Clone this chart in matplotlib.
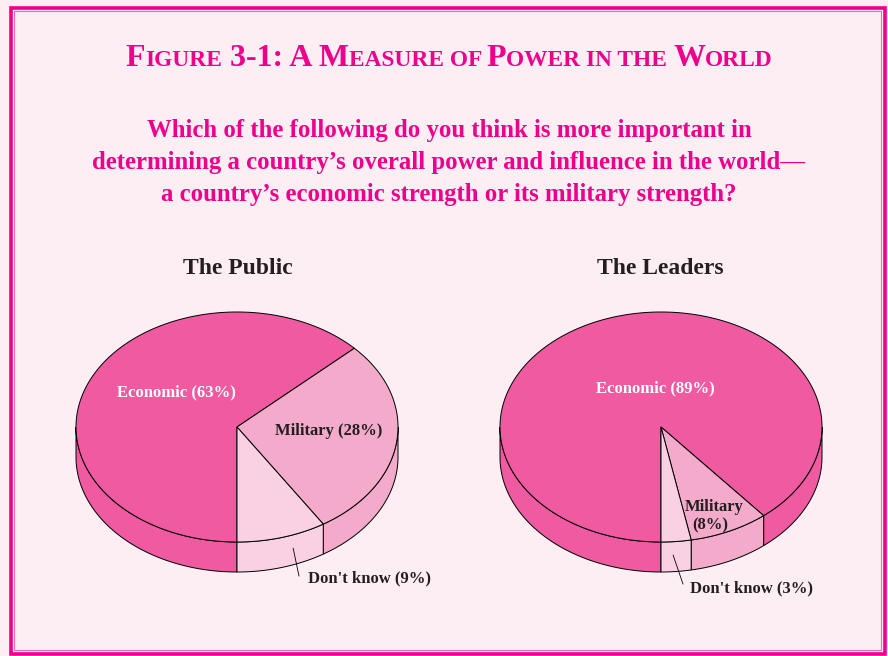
import numpy as np
import matplotlib
matplotlib.use('Agg')
import matplotlib.pyplot as plt
from matplotlib.patches import Polygon, Rectangle
from matplotlib.offsetbox import TextArea, HPacker, AnnotationBbox

# data
categories = ['Economic', 'Military', "Don't know"]
public_values = [63, 28, 9]
leaders_values = [89, 8, 3]
slice_colors = ['#EF5AA0', '#F4AACB', '#F9D1E3']

title_parts = [('F', 'big'), ('IGURE', 'small'), (' 3-1: A ', 'big'), ('M', 'big'),
               ('EASURE OF ', 'small'), ('P', 'big'), ('OWER IN THE ', 'small'),
               ('W', 'big'), ('ORLD', 'small')]
subtitle_lines = ["Which of the following do you think is more important in",
                  "determining a country\u2019s overall power and influence in the world\u2014",
                  "a country\u2019s economic strength or its military strength?"]

BG = '#FCEEF3'
MAGENTA = '#EC008C'
DARK = '#231F20'
SERIF = 'Liberation Serif'

RX, RY, DEPTH = 161, 115, 30

fig = plt.figure(figsize=(8.88, 6.56), dpi=100)
fig.patch.set_facecolor(BG)
ax = fig.add_axes([0, 0, 1, 1])
ax.set_xlim(0, 888)
ax.set_ylim(656, 0)
ax.axis('off')


def pt(cx, cy, ang, dy=0):
    a = np.radians(ang)
    return cx + RX * np.cos(a), cy - RY * np.sin(a) + dy


def arc(cx, cy, a1, a2, dy=0):
    angs = np.linspace(a1, a2, max(int(abs(a2 - a1)) * 2, 2))
    return [pt(cx, cy, a, dy) for a in angs]


def draw_pie(cx, cy, values):
    total = float(sum(values))
    start = 270.0
    spans = []
    cum = 0
    for v in values:
        t1 = start - cum / total * 360
        t2 = start - (cum + v) / total * 360
        spans.append((t1, t2))
        cum += v
    # side band (front half only)
    for (t1, t2), col in zip(spans, slice_colors):
        lo, hi = t2, t1
        for k in range(-2, 3):
            a = max(lo, -180 + 360 * k)
            b = min(hi, 360 * k)
            if b > a:
                pts = arc(cx, cy, a, b) + arc(cx, cy, b, a, DEPTH)
                ax.add_patch(Polygon(pts, closed=True, facecolor=col,
                                     edgecolor='black', lw=0.7, zorder=2))
    # top
    for (t1, t2), col in zip(spans, slice_colors):
        pts = [(cx, cy)] + arc(cx, cy, t1, t2)
        ax.add_patch(Polygon(pts, closed=True, facecolor=col,
                             edgecolor='black', lw=0.7, zorder=3))
    return spans


pub = draw_pie(237, 427, public_values)
lead = draw_pie(661, 427, leaders_values)

lab = dict(family=SERIF, weight='bold', fontsize=12, zorder=5)
ax.text(176, 392, f'{categories[0]} ({public_values[0]}%)', color='white',
        ha='center', va='center', **lab)
ax.text(329, 431, f'{categories[1]} ({public_values[1]}%)', color=DARK,
        ha='center', va='center', **lab)
ax.text(308, 578, f'{categories[2]} ({public_values[2]}%)', color=DARK,
        ha='left', va='center', **lab)

ax.text(655, 388, f'{categories[0]} ({leaders_values[0]}%)', color='white',
        ha='center', va='center', **lab)
ax.text(714, 507, f'{categories[1]}', color=DARK, ha='center', va='center', **lab)
ax.text(710, 525, f'({leaders_values[1]}%)', color=DARK, ha='center', va='center', **lab)
ax.text(690, 588, f'{categories[2]} ({leaders_values[2]}%)', color=DARK,
        ha='left', va='center', **lab)

# leader lines for the small "Don't know" slices
for (cx, cy), spans, frac, end in [((237, 427), pub, 0.63, (299, 576)),
                                   ((661, 427), lead, 0.4, (683, 584))]:
    t1, t2 = spans[2]
    ang = t2 + frac * (t1 - t2)
    x0, y0 = pt(cx, cy, ang, DEPTH * 0.45)
    ax.plot([x0, end[0]], [y0, end[1]], color='black', lw=0.6, zorder=4)

ax.text(238, 268, 'The Public', family=SERIF, weight='bold', fontsize=17,
        color=DARK, ha='center', va='center')
ax.text(660, 268, 'The Leaders', family=SERIF, weight='bold', fontsize=17,
        color=DARK, ha='center', va='center')

for i, line in enumerate(subtitle_lines):
    ax.text(449, 131 + 32 * i, line, family=SERIF, weight='bold', fontsize=17.8,
            color=MAGENTA, ha='center', va='center')

sizes = {'big': 23, 'small': 16.8}
boxes = [TextArea(t, textprops=dict(family=SERIF, weight='bold', fontsize=sizes[s],
                                    color=MAGENTA)) for t, s in title_parts]
pack = HPacker(children=boxes, align='baseline', pad=0, sep=0)
ax.add_artist(AnnotationBbox(pack, (449, 58), xycoords='data', frameon=False,
                             box_alignment=(0.5, 0.5)))

# frame
ax.add_patch(Rectangle((10.5, 7.5), 874.5, 646.5, fill=False, edgecolor='#EC008C',
                       lw=2.6, clip_on=False, zorder=6))
ax.add_patch(Rectangle((14, 11), 867, 639, fill=False, edgecolor='#F06EB0',
                       lw=0.8, clip_on=False, zorder=6))

fig.savefig('out.png', dpi=100, facecolor=BG)
